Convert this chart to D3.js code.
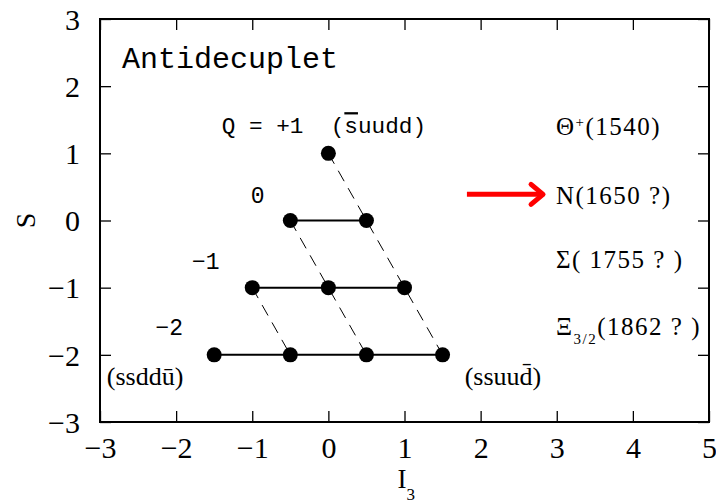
<!DOCTYPE html>
<html>
<head>
  <script src="https://cdn.jsdelivr.net/npm/d3@7"></script>
  <style>
    body { margin: 0; background: #fff; }
    .tick line { stroke: #000; stroke-width: 1.3; }
  </style>
</head>
<body>
  <div id="chart"></div>
<script>
  // multiplet states (I3, S)
  const i3 = [0, -0.5, 0.5, -1, 0, 1, -1.5, -0.5, 0.5, 1.5];
  const strangeness = [1, 0, 0, -1, -1, -1, -2, -2, -2, -2];

  // solid rows of equal strangeness
  const rowS = [0, -1, -2];
  const rowFrom = [-0.5, -1, -1.5];
  const rowTo = [0.5, 1, 1.5];

  // dashed lines of equal charge
  const dashFrom = [[0, 1], [-0.5, 0], [-1, -1]];
  const dashTo = [[1.5, -2], [0.5, -2], [-0.5, -2]];

  // charge labels
  const chargeText = ["0", "\u22121", "\u22122"];
  const chargeX = [-0.93, -1.61, -2.09];
  const chargeY = [0.38, -0.6, -1.58];

  // particle names on the right
  const particleY = [1.4, 0.38, -0.58, -1.57];

  const xTicks = [-3, -2, -1, 0, 1, 2, 3, 4, 5];
  const yTicks = [-3, -2, -1, 0, 1, 2, 3];

  const margin = {top: 19, right: 7, bottom: 82, left: 100},
        width = 716 - margin.left - margin.right,
        height = 504 - margin.top - margin.bottom;

  const serif = "Liberation Serif, serif";
  const mono = "Liberation Mono, monospace";

  const svg = d3.select("#chart")
    .append("svg")
      .attr("width", 716)
      .attr("height", 504)
    .append("g")
      .attr("transform", "translate(" + margin.left + "," + margin.top + ")");

  const x = d3.scaleLinear().domain([-3, 5]).range([0, width]);
  const y = d3.scaleLinear().domain([-3, 3]).range([height, 0]);

  const fmt = d => d < 0 ? "\u2212" + Math.abs(d) : "" + d;
  const labelStyle = g => g.selectAll("text")
    .style("font-family", serif)
    .style("font-size", "30px")
    .attr("fill", "#000");

  // axes with inward ticks on all sides
  svg.append("g")
    .attr("transform", "translate(0," + height + ")")
    .call(d3.axisBottom(x).tickValues(xTicks).tickSize(-11).tickPadding(12).tickFormat(fmt))
    .call(g => g.select(".domain").remove())
    .call(labelStyle)
    .call(g => g.selectAll("text").attr("dy", "0.8em"));
  svg.append("g")
    .call(d3.axisTop(x).tickValues(xTicks).tickSize(-11).tickFormat(""))
    .call(g => g.select(".domain").remove());
  svg.append("g")
    .call(d3.axisLeft(y).tickValues(yTicks).tickSize(-11).tickPadding(20).tickFormat(fmt))
    .call(g => g.select(".domain").remove())
    .call(labelStyle)
    .call(g => g.selectAll("text").attr("dy", "0.34em"));
  svg.append("g")
    .attr("transform", "translate(" + width + ",0)")
    .call(d3.axisRight(y).tickValues(yTicks).tickSize(-11).tickFormat(""))
    .call(g => g.select(".domain").remove());

  svg.append("rect")
    .attr("width", width)
    .attr("height", height)
    .attr("fill", "none")
    .attr("stroke", "#000")
    .attr("stroke-width", 2);

  // axis titles
  svg.append("text")
    .attr("transform", "translate(" + (-75) + "," + y(0) + ") rotate(-90)")
    .attr("text-anchor", "middle")
    .attr("dy", "0.35em")
    .style("font-family", serif)
    .style("font-size", "28px")
    .text("S");
  const xt = svg.append("text")
    .attr("x", x(1) - 7)
    .attr("y", height + 66)
    .style("font-family", serif)
    .style("font-size", "27px");
  xt.append("tspan").text("I");
  xt.append("tspan").attr("dy", 12).style("font-size", "17px").text("3");

  // dashed charge lines
  svg.selectAll(".dash")
    .data(d3.range(dashFrom.length))
    .enter()
    .append("line")
      .attr("x1", i => x(dashFrom[i][0]))
      .attr("y1", i => y(dashFrom[i][1]))
      .attr("x2", i => x(dashTo[i][0]))
      .attr("y2", i => y(dashTo[i][1]))
      .attr("stroke", "#000")
      .attr("stroke-width", 1)
      .attr("stroke-dasharray", "12,8");

  // solid strangeness rows
  svg.selectAll(".row")
    .data(rowS)
    .enter()
    .append("line")
      .attr("x1", (d, i) => x(rowFrom[i]))
      .attr("x2", (d, i) => x(rowTo[i]))
      .attr("y1", d => y(d))
      .attr("y2", d => y(d))
      .attr("stroke", "#000")
      .attr("stroke-width", 2);

  svg.selectAll("circle")
    .data(i3)
    .enter()
    .append("circle")
      .attr("cx", d => x(d))
      .attr("cy", (d, i) => y(strangeness[i]))
      .attr("r", 7.5)
      .attr("fill", "#000");

  // title
  svg.append("text")
    .attr("x", x(-2.71))
    .attr("y", y(2.27))
    .style("font-family", mono)
    .style("font-size", "30px")
    .text("Antidecuplet");

  // Q label
  const q = svg.append("text")
    .attr("x", x(-1.4))
    .attr("y", y(1.3))
    .attr("xml:space", "preserve")
    .style("font-family", mono)
    .style("font-size", "22.7px");
  q.append("tspan").text("Q = +1  (");
  q.append("tspan").style("text-decoration", "overline").text("s");
  q.append("tspan").text("uudd)");

  svg.selectAll(".charge")
    .data(chargeText)
    .enter()
    .append("text")
      .attr("x", (d, i) => x(chargeX[i]))
      .attr("y", (d, i) => y(chargeY[i]))
      .attr("text-anchor", "middle")
      .attr("dy", "0.35em")
      .style("font-family", mono)
      .style("font-size", "23px")
      .text(d => d);

  // quark content of corner states
  svg.append("text")
    .attr("x", x(-2.91)).attr("y", y(-2.45))
    .style("font-family", serif).style("font-size", "26px")
    .text("(ssdd\u016b)");
  svg.append("text")
    .attr("x", x(1.79)).attr("y", y(-2.45))
    .style("font-family", serif).style("font-size", "26px")
    .text("(ssuud\u0304)");

  // particle names
  const p = svg.selectAll(".pname")
    .data(particleY)
    .enter()
    .append("text")
      .attr("x", x(2.99))
      .attr("y", d => y(d))
      .attr("dy", "0.35em")
      .attr("xml:space", "preserve")
      .style("font-family", serif)
      .style("font-size", "25px")
      .style("letter-spacing", "1.5px");
  p.filter((d, i) => i === 0).each(function() {
    const t = d3.select(this);
    t.append("tspan").text("\u0398");
    t.append("tspan").attr("dy", -8).style("font-size", "15px").text("+");
    t.append("tspan").attr("dy", 8).text("(1540)");
  });
  p.filter((d, i) => i === 1).text("N(1650 ?)");
  p.filter((d, i) => i === 2).text("\u03a3( 1755 ? )");
  p.filter((d, i) => i === 3).each(function() {
    const t = d3.select(this);
    t.append("tspan").text("\u039e");
    t.append("tspan").attr("dy", 9).style("font-size", "15px").text("3/2");
    t.append("tspan").attr("dy", -9).text("(1862 ? )");
  });

  // red arrow pointing at N
  const ay = 0.39, ax0 = 1.82, ax1 = 2.82;
  svg.append("line")
    .attr("x1", x(ax0)).attr("x2", x(ax1) - 2)
    .attr("y1", y(ay)).attr("y2", y(ay))
    .attr("stroke", "red").attr("stroke-width", 5);
  svg.append("path")
    .attr("d", d3.line()([[x(ax1) - 12, y(ay) - 10], [x(ax1), y(ay)], [x(ax1) - 12, y(ay) + 10]]))
    .attr("fill", "none")
    .attr("stroke", "red")
    .attr("stroke-width", 5)
    .attr("stroke-linecap", "round")
    .attr("stroke-linejoin", "round");
</script>
</body>
</html>
